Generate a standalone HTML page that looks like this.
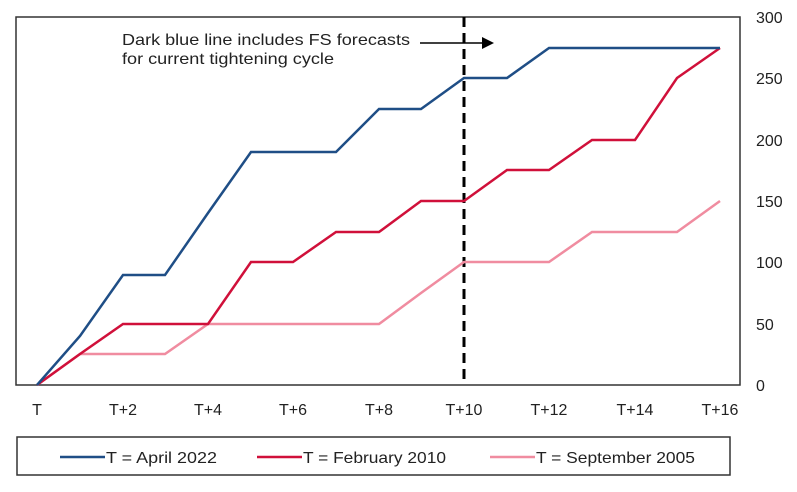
<!DOCTYPE html>
<html><head><meta charset="utf-8"><style>
body{margin:0;background:#fff;}
svg text{font-family:"Liberation Sans",sans-serif;font-size:16px;fill:#222;}
</style></head><body>
<svg width="797" height="487" xmlns="http://www.w3.org/2000/svg">
<rect x="16" y="17" width="724" height="368" fill="none" stroke="#333" stroke-width="1.5"/>
<g text-anchor="start">
<text x="756" y="23">300</text><text x="756" y="84">250</text><text x="756" y="146">200</text>
<text x="756" y="207">150</text><text x="756" y="268">100</text><text x="756" y="330">50</text>
<text x="756" y="391">0</text>
</g>
<g text-anchor="middle">
<text x="37" y="415">T</text><text x="123" y="415">T+2</text><text x="208" y="415">T+4</text>
<text x="293" y="415">T+6</text><text x="379" y="415">T+8</text><text x="464" y="415">T+10</text>
<text x="549" y="415">T+12</text><text x="635" y="415">T+14</text><text x="720" y="415">T+16</text>
</g>
<line x1="464" y1="17" x2="464" y2="385" stroke="#000" stroke-width="3" stroke-dasharray="10,6"/>
<text x="122" y="45" textLength="288" lengthAdjust="spacingAndGlyphs">Dark blue line includes FS  forecasts</text>
<text x="122" y="64" textLength="212" lengthAdjust="spacingAndGlyphs">for current tightening cycle</text>
<line x1="420" y1="43" x2="488" y2="43" stroke="#000" stroke-width="1.5"/>
<polygon points="494,43 482,37 482,49" fill="#000"/>
<polyline fill="none" stroke="#f08ca0" stroke-width="2.5" points="37,385 80,354 123,354 165,354 208,324 251,324 293,324 336,324 379,324 421,293 464,262 507,262 549,262 592,232 635,232 677,232 720,201"/>
<polyline fill="none" stroke="#d0103a" stroke-width="2.5" points="37,385 80,354 123,324 165,324 208,324 251,262 293,262 336,232 379,232 421,201 464,201 507,170 549,170 592,140 635,140 677,78 720,48"/>
<polyline fill="none" stroke="#1f4e86" stroke-width="2.5" points="37,385 80,336 123,275 165,275 208,213 251,152 293,152 336,152 379,109 421,109 464,78 507,78 549,48 592,48 635,48 677,48 720,48"/>
<rect x="17" y="437" width="713" height="38" fill="none" stroke="#333" stroke-width="1.5"/>
<line x1="60" y1="457" x2="105" y2="457" stroke="#1f4e86" stroke-width="2.5"/>
<text x="106" y="463" textLength="111" lengthAdjust="spacingAndGlyphs">T = April 2022</text>
<line x1="257" y1="457" x2="302" y2="457" stroke="#d0103a" stroke-width="2.5"/>
<text x="303" y="463" textLength="143" lengthAdjust="spacingAndGlyphs">T = February 2010</text>
<line x1="490" y1="457" x2="535" y2="457" stroke="#f08ca0" stroke-width="2.5"/>
<text x="536" y="463" textLength="159" lengthAdjust="spacingAndGlyphs">T = September 2005</text>
</svg>
</body></html>
